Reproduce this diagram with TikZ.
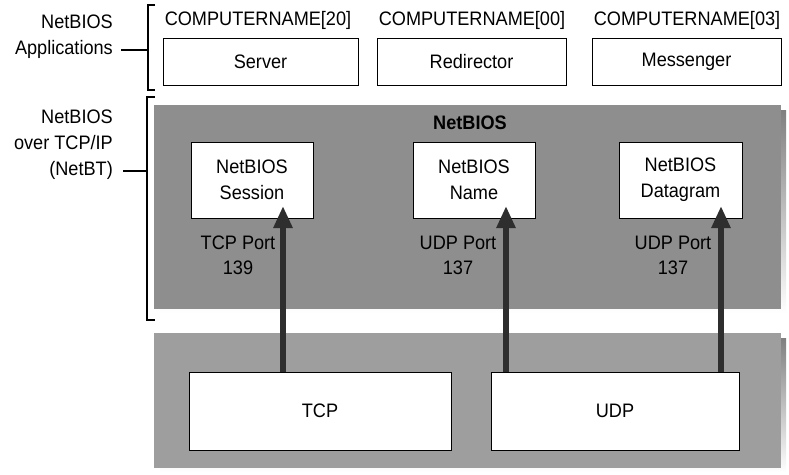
\documentclass[tikz,border=0pt]{standalone}
\usepackage{fontspec}
\setmainfont[FakeStretch=0.93]{Liberation Sans}
\usetikzlibrary{arrows.meta}
\definecolor{grayA}{HTML}{8E8E8E}
\definecolor{grayB}{HTML}{9E9E9E}
\definecolor{shade}{HTML}{1E1E1E}
\definecolor{arrowc}{HTML}{2E2E2E}
\begin{document}
\begin{tikzpicture}[x=1pt,y=-1pt,
  every node/.style={font=\fontsize{19.5}{26}\selectfont, inner sep=0pt},
  appbox/.style={draw=black, line width=1pt, fill=white, minimum height=47pt},
  svcbox/.style={draw=black, line width=1pt, fill=white, minimum width=122pt, minimum height=76pt, align=center},
  protobox/.style={draw=black, line width=1pt, fill=white, minimum height=78pt},
  layer/.style={minimum width=627pt},
  brk/.style={line width=1.3pt},
  upar/.style={draw=arrowc, line width=6pt, -{Triangle[width=18pt,length=22pt]}},
  lbl/.style={align=right, anchor=east},
  port/.style={align=center, font=\fontsize{19.5}{25}\selectfont}]
\useasboundingbox (0,0) rectangle (789,474);
\fill[white] (0,0) rectangle (789,474);

% layer backgrounds with shadows
\fill[shade] (160,110) rectangle (786,313);
\node[layer, fill=grayA, minimum height=204pt] (netbt) at (467.5,207) {};
\fill[shade] (160,338) rectangle (786,472);
\node[layer, fill=grayB, minimum height=135pt] (lower) at (467.5,400.5) {};

% left labels
\node[lbl] (lab1) at (113,37) {NetBIOS\\Applications};
\node[lbl] (lab2) at (113,144.5) {NetBIOS\\over TCP/IP\\(NetBT)};
\coordinate (b1) at (148,50);
\coordinate (b2) at (147,171);
\draw[line width=1.2pt] (lab1.east |- b1) ++(8,0) -- (b1);
\draw[line width=1.2pt] (lab2.east |- b2) ++(10,0) -- (b2);
\draw[brk] (155,5) -- (148,5) -- (148,90) -- (155,90);
\draw[brk] (155,97) -- (147,97) -- (147,320) -- (155,320);

% applications
\node[appbox, minimum width=195pt] (server) at (260.5,61.5) {Server};
\node[appbox, minimum width=189pt] (redir) at (471.5,61.5) {Redirector};
\node[appbox, minimum width=189pt] (msgr) at (686.5,61.5) {Messenger};
\node (cn20) at (258,20) {COMPUTERNAME[20]};
\node (cn00) at (472,20) {COMPUTERNAME[00]};
\node (cn03) at (687,20) {COMPUTERNAME[03]};

% NetBIOS layer
\node[font=\fontsize{19.5}{26}\selectfont\bfseries] (title) at (470,123) {NetBIOS};
\node[svcbox] (sess) at (252,180) {NetBIOS\\Session};
\node[svcbox] (name) at (474,180) {NetBIOS\\Name};
\node[svcbox, minimum width=123pt] (dgram) at (680.5,180) {NetBIOS\\Datagram};
\node[port] (p1) at (238,255.5) {TCP Port\\139};
\node[port] (p2) at (458,255.5) {UDP Port\\137};
\node[port] (p3) at (673,255.5) {UDP Port\\137};

% transport
\node[protobox, minimum width=262pt] (tcp) at (320,411) {TCP};
\node[protobox, minimum width=248pt] (udp) at (615,411) {UDP};

% arrows
\coordinate (t1) at (283,206);
\coordinate (t2) at (506,206);
\coordinate (t3) at (721,206);
\draw[upar] (t1 |- tcp.north) -- (t1);
\draw[upar] (t2 |- udp.north) -- (t2);
\draw[upar] (t3 |- udp.north) -- (t3);
\end{tikzpicture}
\end{document}
